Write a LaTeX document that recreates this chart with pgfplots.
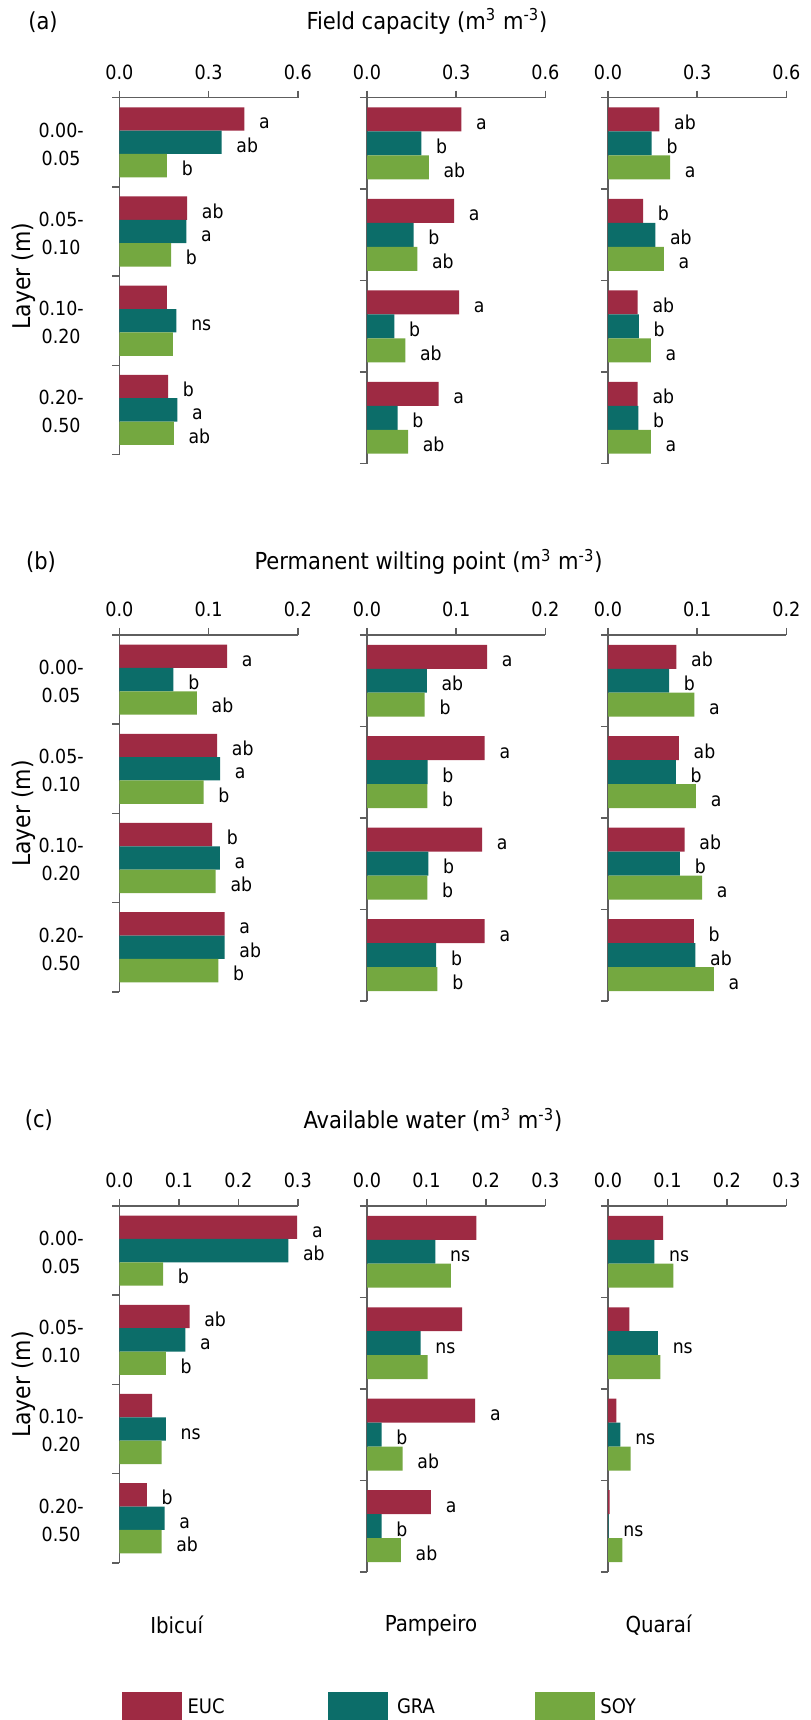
\documentclass[border=0pt]{standalone}
\usepackage{pgfplots}
\usepackage{pgfplotstable}
\pgfplotsset{compat=1.18}
\usepackage{fontspec}
\setmainfont{DejaVu Sans Condensed}

\definecolor{euc}{HTML}{9E2A43}
\definecolor{gra}{HTML}{0C6D69}
\definecolor{soy}{HTML}{74A840}
\definecolor{axisgray}{HTML}{5E5E5E}

% columns: c = group centre (top group = 3.5), E/G/S values, eL/gL/sL letters
\pgfplotstableread{
c E eL G gL S sL
3.5 0.420 a 0.344 ab 0.160 b
2.5 0.228 ab 0.225 a 0.174 b
1.5 0.160 {} 0.192 ns 0.180 {}
0.5 0.164 b 0.195 a 0.183 ab
}\FCi
\pgfplotstableread{
c E eL G gL S sL
3.5 0.317 a 0.183 b 0.208 ab
2.5 0.293 a 0.157 b 0.169 ab
1.5 0.310 a 0.092 b 0.129 ab
0.5 0.241 a 0.103 b 0.138 ab
}\FCp
\pgfplotstableread{
c E eL G gL S sL
3.5 0.173 ab 0.147 b 0.209 a
2.5 0.118 b 0.159 ab 0.188 a
1.5 0.100 ab 0.104 b 0.144 a
0.5 0.100 ab 0.102 b 0.144 a
}\FCq
\pgfplotstableread{
c E eL G gL S sL
3.5 0.1207 a 0.0606 b 0.0869 ab
2.5 0.1096 ab 0.1130 a 0.0945 b
1.5 0.1040 b 0.1125 a 0.1080 ab
0.5 0.1180 a 0.1180 ab 0.1110 b
}\PWi
\pgfplotstableread{
c E eL G gL S sL
3.5 0.1347 a 0.0670 ab 0.0647 b
2.5 0.1320 a 0.0680 b 0.0676 b
1.5 0.1290 a 0.0688 b 0.0676 b
0.5 0.1320 a 0.0776 b 0.0790 b
}\PWp
\pgfplotstableread{
c E eL G gL S sL
3.5 0.0767 ab 0.0686 b 0.0968 a
2.5 0.0795 ab 0.0760 b 0.0986 a
1.5 0.0859 ab 0.0807 b 0.1055 a
0.5 0.0963 b 0.0980 ab 0.1187 a
}\PWq
\pgfplotstableread{
c E eL G gL S sL
3.5 0.299 a 0.284 ab 0.0735 b
2.5 0.118 ab 0.111 a 0.078 b
1.5 0.055 {} 0.078 ns 0.071 {}
0.5 0.046 b 0.076 a 0.071 ab
}\AWi
\pgfplotstableread{
c E eL G gL S sL
3.5 0.184 {} 0.115 ns 0.141 {}
2.5 0.160 {} 0.090 ns 0.102 {}
1.5 0.182 a 0.0245 b 0.060 ab
0.5 0.1076 a 0.0245 b 0.057 ab
}\AWp
\pgfplotstableread{
c E eL G gL S sL
3.5 0.0925 {} 0.078 ns 0.110 {}
2.5 0.036 {} 0.084 ns 0.088 {}
1.5 0.014 {} 0.021 ns 0.038 {}
0.5 0.0026 {} 0.001 ns 0.024 {}
}\AWq

\pgfplotsset{
  panel/.style={
    scale only axis, width=89.2pt, anchor=north west,
    xmin=0, ymin=0, ymax=4,
    axis x line*=top, axis y line*=left,
    axis line style={draw=axisgray, line width=0.75pt, -},
    every tick/.style={draw=axisgray, line width=0.75pt},
    tick align=outside, major tick length=3.6pt,
    ytick={0,1,2,3,4}, yticklabels={},
    xticklabel style={font=\fontsize{9.8}{11}\selectfont, yshift=2pt,
      /pgf/number format/.cd, fixed, fixed zerofill, precision=1, assume math mode=true},
    xbar, bar width=0.262, bar shift=0pt,
    point meta=explicit symbolic,
    nodes near coords,
    every node near coord/.append style={font=\fontsize{9.6}{11}\selectfont,
      anchor=base west, inner sep=0pt, xshift=7.2pt, yshift=-5pt, text=black},
    clip=false,
  },
  col1/.style={height=178.4pt},
  col23/.style={height=182.9pt},
}

\newcommand{\bars}[1]{%
  \addplot[fill=euc, draw=none, bar shift=0pt] table[x=E, y expr=\thisrow{c}+0.262, meta=eL]{#1};
  \addplot[fill=gra, draw=none, bar shift=0pt] table[x=G, y=c, meta=gL]{#1};
  \addplot[fill=soy, draw=none, bar shift=0pt] table[x=S, y expr=\thisrow{c}-0.262, meta=sL]{#1};
}
\newcommand{\layers}{%
  \node[anchor=east, align=center, font=\fontsize{9.7}{14}\selectfont, xshift=-14.3pt, yshift=-0.9pt] at (axis cs:0,3.5) {0.00-\\0.05};
  \node[anchor=east, align=center, font=\fontsize{9.7}{14}\selectfont, xshift=-14.3pt, yshift=-0.9pt] at (axis cs:0,2.5) {0.05-\\0.10};
  \node[anchor=east, align=center, font=\fontsize{9.7}{14}\selectfont, xshift=-14.3pt, yshift=-0.9pt] at (axis cs:0,1.5) {0.10-\\0.20};
  \node[anchor=east, align=center, font=\fontsize{9.7}{14}\selectfont, xshift=-14.3pt, yshift=-0.9pt] at (axis cs:0,0.5) {0.20-\\0.50};
}

\begin{document}
\begin{tikzpicture}
\useasboundingbox (0,0) rectangle (405pt,-860pt);
\clip (0,0) rectangle (405pt,-860pt);

% ---------- (a) Field capacity ----------
\node[font=\fontsize{11.7}{13}\selectfont] at (21.5pt,-10.85pt) {(a)};
\node[font=\fontsize{11.7}{13}\selectfont] at (213.5pt,-10.85pt) {Field capacity (m\textsuperscript{3} m\textsuperscript{-3})};
\node[font=\fontsize{12.2}{14}\selectfont, rotate=90] at (12pt,-138pt) {Layer (m)};
\begin{axis}[panel, col1, at={(59.7pt,-48.85pt)}, xmax=0.6, xtick={0,0.3,0.6}]
\bars{\FCi}
\layers
\end{axis}
\begin{axis}[panel, col23, at={(183.5pt,-48.85pt)}, xmax=0.6, xtick={0,0.3,0.6}]
\bars{\FCp}
\end{axis}
\begin{axis}[panel, col23, at={(304pt,-48.85pt)}, xmax=0.6, xtick={0,0.3,0.6}]
\bars{\FCq}
\end{axis}

% ---------- (b) Permanent wilting point ----------
\node[font=\fontsize{11.7}{13}\selectfont] at (20.5pt,-280.85pt) {(b)};
\node[font=\fontsize{11.7}{13}\selectfont] at (214.3pt,-280.85pt) {Permanent wilting point (m\textsuperscript{3} m\textsuperscript{-3})};
\node[font=\fontsize{12.2}{14}\selectfont, rotate=90] at (12pt,-406.8pt) {Layer (m)};
\begin{axis}[panel, col1, at={(59.7pt,-317.5pt)}, xmax=0.2, xtick={0,0.1,0.2}]
\bars{\PWi}
\layers
\end{axis}
\begin{axis}[panel, col23, at={(183.5pt,-317.5pt)}, xmax=0.2, xtick={0,0.1,0.2}]
\bars{\PWp}
\end{axis}
\begin{axis}[panel, col23, at={(304pt,-317.5pt)}, xmax=0.2, xtick={0,0.1,0.2}]
\bars{\PWq}
\end{axis}

% ---------- (c) Available water ----------
\node[font=\fontsize{11.7}{13}\selectfont] at (19.4pt,-560pt) {(c)};
\node[font=\fontsize{11.7}{13}\selectfont] at (216.5pt,-560pt) {Available water (m\textsuperscript{3} m\textsuperscript{-3})};
\node[font=\fontsize{12.2}{14}\selectfont, rotate=90] at (12pt,-692.2pt) {Layer (m)};
\begin{axis}[panel, col1, at={(59.7pt,-603pt)}, xmax=0.3, xtick={0,0.1,0.2,0.3}]
\bars{\AWi}
\layers
\end{axis}
\begin{axis}[panel, col23, at={(183.5pt,-603pt)}, xmax=0.3, xtick={0,0.1,0.2,0.3}]
\bars{\AWp}
\end{axis}
\begin{axis}[panel, col23, at={(304pt,-603pt)}, xmax=0.3, xtick={0,0.1,0.2,0.3}]
\bars{\AWq}
\end{axis}

% ---------- site names ----------
\node[font=\fontsize{11}{13}\selectfont] at (88.35pt,-812.5pt) {Ibicuí};
\node[font=\fontsize{11}{13}\selectfont] at (215.5pt,-812.5pt) {Pampeiro};
\node[font=\fontsize{11}{13}\selectfont] at (329.25pt,-812.5pt) {Quaraí};

% ---------- legend ----------
\fill[euc] (61.15pt,-846pt) rectangle (90.85pt,-875pt);
\node[anchor=west, inner sep=0pt, font=\fontsize{10}{12}\selectfont] at (93.6pt,-853pt) {EUC};
\fill[gra] (164pt,-846pt) rectangle (194pt,-875pt);
\node[anchor=west, inner sep=0pt, font=\fontsize{10}{12}\selectfont] at (198.3pt,-853pt) {GRA};
\fill[soy] (267.5pt,-846pt) rectangle (297.5pt,-875pt);
\node[anchor=west, inner sep=0pt, font=\fontsize{10}{12}\selectfont] at (300pt,-853pt) {SOY};
\end{tikzpicture}
\end{document}
